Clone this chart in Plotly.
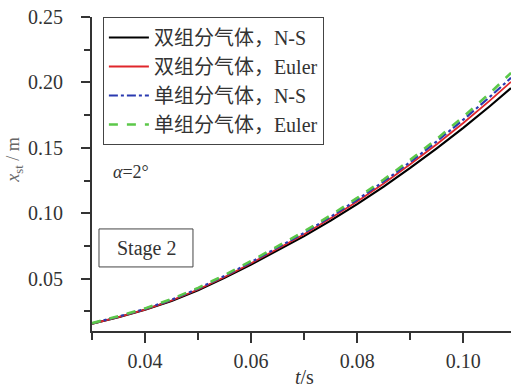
import plotly.graph_objects as go

t = [0.030, 0.035, 0.040, 0.045, 0.050, 0.055, 0.060, 0.065, 0.070, 0.075,
     0.080, 0.085, 0.090, 0.095, 0.100, 0.105, 0.109]
two_ns = [0.0155, 0.0205, 0.0262, 0.0330, 0.0412, 0.0506, 0.0608, 0.0714, 0.0825,
          0.0944, 0.1070, 0.1204, 0.1346, 0.1496, 0.1653, 0.1818, 0.1956]
two_euler = [0.0155, 0.0206, 0.0264, 0.0333, 0.0417, 0.0513, 0.0618, 0.0726, 0.0840,
             0.0961, 0.1090, 0.1228, 0.1374, 0.1528, 0.1690, 0.1861, 0.2004]
one_ns = [0.0158, 0.0210, 0.0269, 0.0339, 0.0424, 0.0521, 0.0626, 0.0735, 0.0850,
          0.0973, 0.1103, 0.1243, 0.1391, 0.1549, 0.1715, 0.1889, 0.2035]
one_euler = [0.0160, 0.0213, 0.0273, 0.0344, 0.0430, 0.0528, 0.0635, 0.0745, 0.0861,
             0.0985, 0.1117, 0.1258, 0.1408, 0.1568, 0.1737, 0.1917, 0.2073]

names = ["双组分气体，N-S", "双组分气体，Euler", "单组分气体，N-S", "单组分气体，Euler"]
series = [two_ns, two_euler, one_ns, one_euler]
styles = [
    dict(color="#000000", width=2.2, dash="solid"),
    dict(color="#e0262b", width=1.8, dash="solid"),
    dict(color="#2a3ab0", width=2.2, dash="dashdot"),
    dict(color="#5cc84a", width=2.6, dash="dash"),
]

y_ticks = [0.05, 0.10, 0.15, 0.20, 0.25]
x_ticks = [0.04, 0.06, 0.08, 0.10]

FONT = "Liberation Serif, Noto Sans CJK SC, serif"

fig = go.Figure()
for name, ys, st in zip(names, series, styles):
    fig.add_trace(go.Scatter(x=t, y=ys, mode="lines", name=name, line=st))

fig.update_layout(
    width=511, height=388,
    margin=dict(l=92, r=0, t=17, b=57, autoexpand=False),
    paper_bgcolor="white", plot_bgcolor="white",
    font=dict(family=FONT, size=20, color="#333333"),
    showlegend=True,
    legend=dict(
        x=0.026, y=1.0, xanchor="left", yanchor="top",
        bordercolor="#444444", borderwidth=1, bgcolor="white",
        font=dict(family=FONT, size=20, color="#333333"),
        tracegroupgap=0, itemwidth=40,
    ),
    xaxis=dict(
        range=[0.03, 0.109], tickvals=x_ticks, ticktext=[f"{v:.2f}" for v in x_ticks],
        ticks="outside", ticklen=10, tickwidth=2, tickcolor="#333333",
        ticklabelstandoff=1, automargin=False,
        showline=True, linecolor="#333333", linewidth=2, showgrid=False, zeroline=False,
        minor=dict(tickvals=[0.03, 0.05, 0.07, 0.09], ticks="outside", ticklen=7,
                   tickwidth=2, tickcolor="#333333"),
    ),
    yaxis=dict(
        range=[0.01, 0.25], tickvals=y_ticks, ticktext=[f"{v:.2f}" for v in y_ticks],
        ticks="outside", ticklen=9, tickwidth=2, tickcolor="#333333",
        ticklabelstandoff=14, automargin=False,
        showline=True, linecolor="#333333", linewidth=2, showgrid=False, zeroline=False,
        minor=dict(tickvals=[0.025, 0.075, 0.125, 0.175, 0.225], ticks="outside",
                   ticklen=6, tickwidth=2, tickcolor="#333333"),
    ),
    shapes=[dict(type="rect", xref="paper", yref="paper", x0=0.0167, x1=0.241,
                 y0=0.204, y1=0.325, line=dict(color="#444444", width=1),
                 fillcolor="white", layer="above")],
    annotations=[
        dict(text="Stage 2", xref="paper", yref="paper", x=0.129, y=0.264,
             xanchor="center", yanchor="middle",
             showarrow=False, font=dict(size=20, color="#333333")),
        dict(text="<i>α</i>=2°", xref="paper", yref="paper", x=0.093, y=0.506,
             xanchor="center", yanchor="middle",
             showarrow=False, font=dict(size=18, color="#333333")),
        dict(text="<i>t</i>/s", xref="paper", yref="paper", x=0.506, y=-0.146,
             xanchor="center", yanchor="middle",
             showarrow=False, font=dict(size=20, color="#333333")),
        dict(text="<i>x</i><sub>st</sub> / m", xref="paper", yref="paper",
             x=-0.184, y=0.545, textangle=-90, showarrow=False,
             xanchor="center", yanchor="middle",
             font=dict(size=18, color="#666666")),
    ],
)

fig.write_html("out.html", config={"displayModeBar": False},
               post_script="document.body.style.margin='0px';")
